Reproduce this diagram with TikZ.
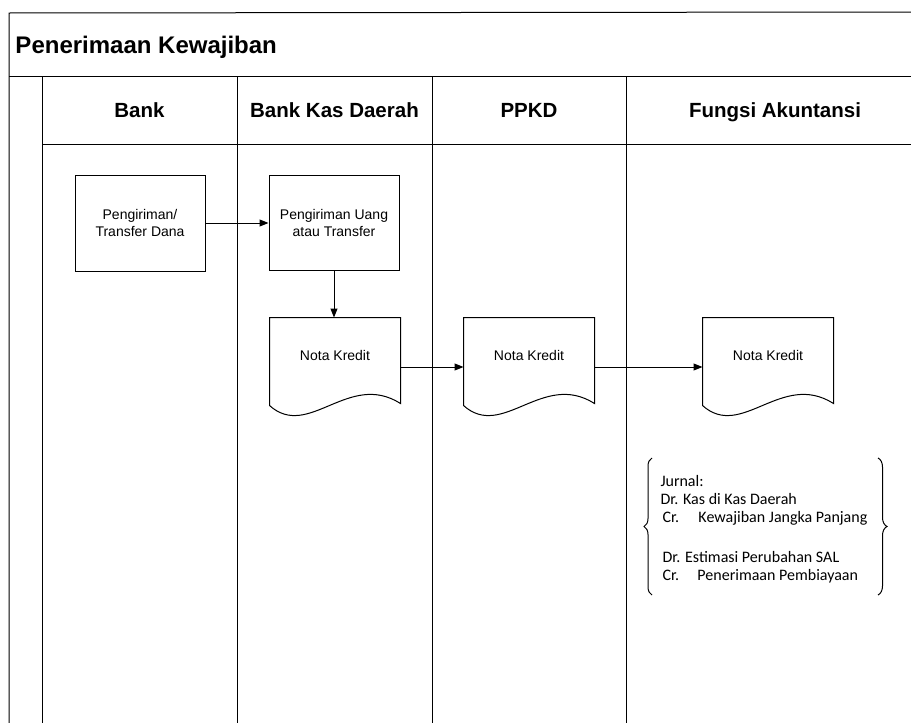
\documentclass[tikz,border=0pt]{standalone}
\usepackage{fontspec}
\setmainfont{Liberation Sans}
\newfontfamily\jfont{Carlito}
\usetikzlibrary{arrows.meta,decorations.pathreplacing,calc}
\newcommand\DocOutline[1]{\draw (#1.north west) -- (#1.north east) -- (#1.south east)
  .. controls ([xshift=-52pt,yshift=33pt]#1.south east) and ([xshift=39pt,yshift=-37pt]#1.south west)
  .. ([yshift=-2pt]#1.south west) -- cycle;}
\begin{document}
\begin{tikzpicture}[x=1pt,y=-1pt,line width=1pt,
  ttl/.style={font=\bfseries\fontsize{24}{28}\selectfont, anchor=base west, inner sep=0},
  head/.style={font=\bfseries\fontsize{20.5}{24}\selectfont, anchor=base, inner sep=0},
  proc/.style={draw, line width=1pt, minimum width=130pt, minimum height=96pt, align=center,
    font=\fontsize{14}{17}\selectfont, inner sep=0},
  docbox/.style={minimum width=130pt, minimum height=85pt, inner sep=0},
  doclbl/.style={font=\fontsize{14}{17}\selectfont, inner sep=0},
  jtext/.style={font=\jfont\fontsize{16}{19}\selectfont, anchor=base west, inner sep=0},
  arr/.style={-{Triangle[length=9pt,width=7pt]}, line width=1pt},
  brc/.style={decorate, line width=1pt}
]
\useasboundingbox (0,0) rectangle (911,723);
% frame and lanes
\draw (9,723) -- (9,13) -- (911,12);
\draw (9,76) -- (911,76);
\draw (42,144) -- (911,144);
\foreach \x in {42,237,432,626} \draw (\x,76) -- (\x,723);
% titles
\node[ttl] (title) at (15,53) {Penerimaan Kewajiban};
\node[head] (hBank) at (139.5,117) {Bank};
\node[head] (hBKD) at (334.5,117) {Bank Kas Daerah};
\node[head] (hPPKD) at (529,117) {PPKD};
\node[head] (hFA) at (775,117) {Fungsi Akuntansi};
% process boxes
\node[proc] (b1) at (140,223) {Pengiriman/\\Transfer Dana};
\node[proc, minimum height=95pt] (b2) at (334,222.5) {Pengiriman Uang\\atau Transfer};
% documents
\node[docbox] (d1) at (335,360.5) {};
\node[docbox] (d2) at (529,360.5) {};
\node[docbox] (d3) at (768,360.5) {};
\DocOutline{d1}
\DocOutline{d2}
\DocOutline{d3}
\node[doclbl] (d1t) at (335,355) {Nota Kredit};
\node[doclbl] (d2t) at (529,355) {Nota Kredit};
\node[doclbl] (d3t) at (768,355) {Nota Kredit};
% arrows
\draw[arr] (b1.east) -- (b1.east -| b2.west);
\draw[arr] (b2.south) -- (b2.south |- d1.north);
\draw[arr] ([yshift=-6.5pt]d1.east) -- ([yshift=-6.5pt]d2.west);
\draw[arr] ([yshift=-6.5pt]d2.east) -- ([yshift=-6.5pt]d3.west);
% journal
\node[jtext] (j1) at (660,486) {Jurnal:};
\node[jtext] (j2) at (660,504) {Dr. Kas di Kas Daerah};
\node[jtext] (j3) at (662,522) {\makebox[36pt][l]{Cr.}Kewajiban Jangka Panjang};
\node[jtext] (j4) at (662,562) {Dr. Estimasi Perubahan SAL};
\node[jtext] (j5) at (662,580) {\makebox[35pt][l]{Cr.}Penerimaan Pembiayaan};
\coordinate (lbB) at (652,595);
\coordinate (lbT) at (652,458);
\coordinate (rbT) at (878,458);
\coordinate (rbB) at (878,595);
\draw[brc, decoration={brace, amplitude=8pt}] (lbB) -- (lbT);
\draw[brc, decoration={brace, amplitude=9pt}] (rbT) -- (rbB);
\end{tikzpicture}
\end{document}
